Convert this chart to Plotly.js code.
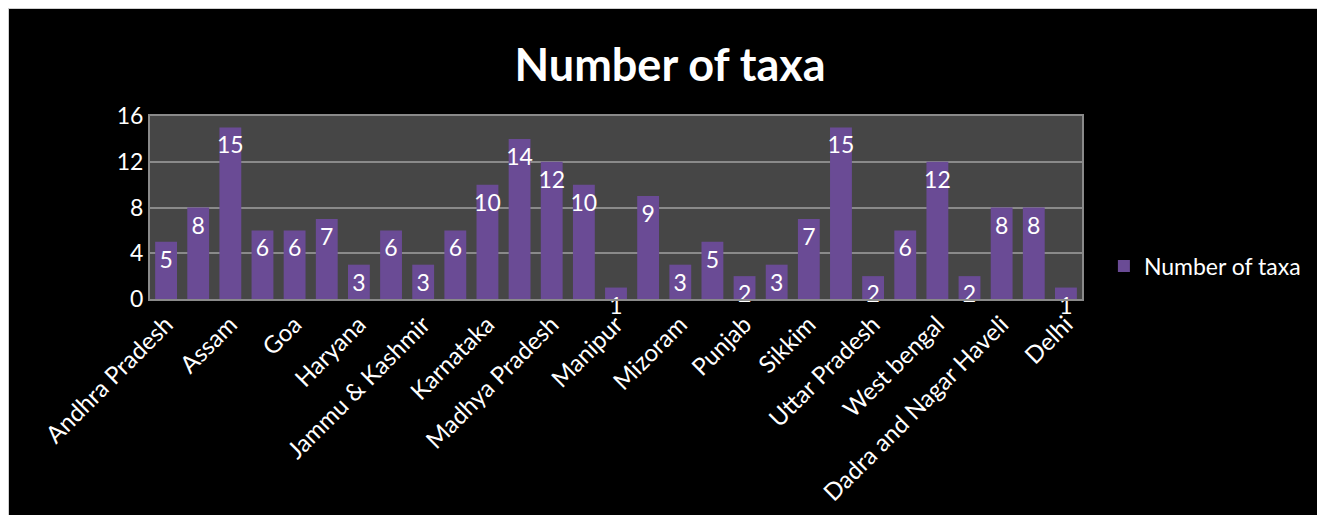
<!DOCTYPE html>
<html>
<head>
<meta charset="utf-8">
<script src="https://cdn.plot.ly/plotly-3.0.1.min.js"></script>
<style>
  html, body { margin: 0; padding: 0; background: #ffffff; }
  #wrap { position: absolute; left: 8px; top: 8px; width: 1309px; height: 507px; border-left: 1px solid #cfcfcf; border-top: 1px solid #cfcfcf; background: #000; }
  #chart { width: 1309px; height: 507px; }
</style>
</head>
<body>
<div id="wrap"><div id="chart"></div></div>
<script>
const states = [
  "Andhra Pradesh", "Arunachal Pradesh", "Assam", "Bihar", "Goa", "Gujarat",
  "Haryana", "Himachal Pradesh", "Jammu & Kashmir", "Jharkhand", "Karnataka",
  "Kerala", "Madhya Pradesh", "Maharashtra", "Manipur", "Meghalaya", "Mizoram",
  "Odisha", "Punjab", "Rajasthan", "Sikkim", "Tamil Nadu", "Uttar Pradesh",
  "Uttarakhand", "West bengal", "Chandigarh", "Dadra and Nagar Haveli",
  "Daman and Diu", "Delhi"
];
const taxa = [5, 8, 15, 6, 6, 7, 3, 6, 3, 6, 10, 14, 12, 10, 1, 9, 3, 5, 2, 3, 7, 15, 2, 6, 12, 2, 8, 8, 1];
const shownTicks = states.filter((s, i) => i % 2 === 0);
const seriesName = "Number of taxa";
const yTicks = [0, 4, 8, 12, 16];

const font = "Lato, 'Open Sans', sans-serif";

const trace = {
  type: "bar",
  x: states,
  y: taxa,
  name: seriesName,
  text: taxa.map(String),
  textposition: "inside",
  insidetextanchor: "end",
  constraintext: "none",
  cliponaxis: false,
  textangle: 0,
  textfont: { color: "#ffffff", size: 23, family: font },
  marker: { color: "#6a4b95", line: { width: 0 } },
  hoverinfo: "x+y",
  showlegend: true
};

const layout = {
  width: 1309, height: 507,
  paper_bgcolor: "#000000",
  plot_bgcolor: "#464646",
  margin: { l: 141, r: 233, t: 107, b: 217 },
  bargap: 0.32,
  uniformtext: { mode: "show", minsize: 23 },
  title: {
    text: "<b>Number of taxa</b>",
    font: { family: font, size: 45, color: "#ffffff" },
    x: 0.505, xanchor: "center", xref: "container",
    y: 0.89, yanchor: "middle"
  },
  xaxis: {
    type: "category",
    tickvals: shownTicks,
    ticktext: shownTicks,
    tickangle: -45,
    tickfont: { family: font, size: 24, color: "#ffffff" },
    showgrid: false,
    showline: true, linecolor: "#8a8a8a", linewidth: 2,
    ticks: "", mirror: true
  },
  yaxis: {
    range: [0, 16],
    tickvals: yTicks,
    tickfont: { family: font, size: 23, color: "#ffffff" },
    showgrid: true, gridcolor: "#8a8a8a", gridwidth: 2,
    showline: true, linecolor: "#8a8a8a", linewidth: 2,
    zeroline: false, ticks: "", mirror: true, ticklen: 0
  },
  legend: {
    x: 1.0235, xanchor: "left",
    y: 0.18, yanchor: "middle",
    font: { family: font, size: 23, color: "#ffffff" },
    bgcolor: "rgba(0,0,0,0)"
  }
};

Plotly.newPlot("chart", [trace], layout, { displayModeBar: false, staticPlot: true });
</script>
</body>
</html>
